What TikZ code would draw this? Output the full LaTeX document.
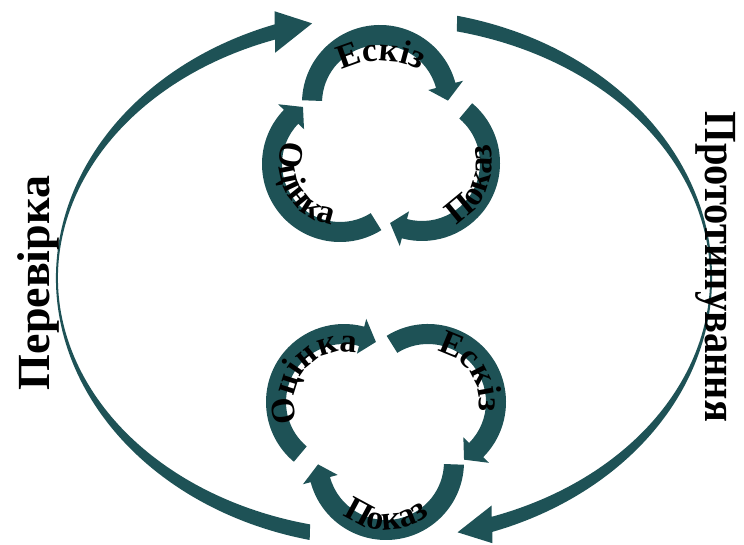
\documentclass[tikz,border=0pt]{standalone}
\usepackage{fontspec}
\setmainfont{Liberation Serif}
\usetikzlibrary{decorations.text}
\definecolor{bandteal}{RGB}{30,82,86}
\newcommand{\biglabel}{\bfseries\fontsize{46}{46}\selectfont}
\newcommand{\smalllabel}{\bfseries\fontsize{34}{34}\selectfont}
% curved band arrow: centre, tail angle, head base angle, tip angle
\newcommand{\loopband}[4]{\fill[bandfill,shift={#1}] (#2:78) arc[start angle=#2,end angle=#3,radius=78]
   -- (#3:86) -- (#4:68) -- (#3:50) -- (#3:58) arc[start angle=#3,end angle=#2,radius=58] -- cycle;}
\tikzset{
  bandfill/.style={fill=bandteal},
  arclabel/.style={decorate,decoration={text along path,text align=center,text={|\smalllabel|#1}}}
}

\begin{document}
\begin{tikzpicture}[x=1pt,y=1pt]
\useasboundingbox (0,0) rectangle (744,545);
% grandi archi
   \fill[bandfill,shift={(384,267)}] (256.9:328 and 269) arc[start angle=256.9,end angle=109.5,x radius=328,y radius=269]
   -- (109.5:328 and 283) -- (102.7:327 and 261) -- (109.5:326 and 239) -- (109.5:326 and 253)
   arc[start angle=109.5,end angle=256.9,x radius=326,y radius=253] -- cycle;
   \fill[bandfill,shift={(384,267)}] (77.1:328 and 269) arc[start angle=77.1,end angle=-70.7,x radius=328,y radius=269]
   -- (-70.7:328 and 281) -- (-77:327 and 261) -- (-70.7:326 and 241) -- (-70.7:326 and 253)
   arc[start angle=-70.7,end angle=77.1,x radius=326,y radius=253] -- cycle;
   \node[rotate=90,font=\biglabel] (perevirka) at (38,262) {Перевірка};
   \node[rotate=-90,font=\biglabel] (prototyp) at (716,278) {\scalebox{0.88}[1]{Прототипування}};
% ciclo sopra
   \loopband{(380,442)}{178}{15}{2}
   \loopband{(422,382)}{50}{-105}{-118}
   \loopband{(340,381)}{302}{136}{123}
   \path[arclabel=Ескіз,shift={(381,400)}] (150:84) arc[start angle=150,end angle=30,radius=84];
   \path[arclabel=Показ,shift={(422,382)}] (-113:70) arc[start angle=-113,end angle=67,radius=70];
   \path[arclabel=Оцінка,shift={(340,381)}] (120:61) arc[start angle=120,end angle=300,radius=61];
% ciclo sotto
   \loopband{(386,83)}{358}{195}{182}
   \loopband{(344,143)}{230}{75}{62}
   \loopband{(428,143)}{122}{-45}{-58}
   \path[arclabel=Показ,shift={(386,83)}] (180:68) arc[start angle=180,end angle=360,radius=68];
   \path[arclabel=Оцінка,shift={(344,143)}] (230:50) arc[start angle=230,end angle=50,radius=50];
   \path[arclabel=Ескіз,shift={(428,143)}] (125:51) arc[start angle=125,end angle=-55,radius=51];
\end{tikzpicture}
\end{document}
